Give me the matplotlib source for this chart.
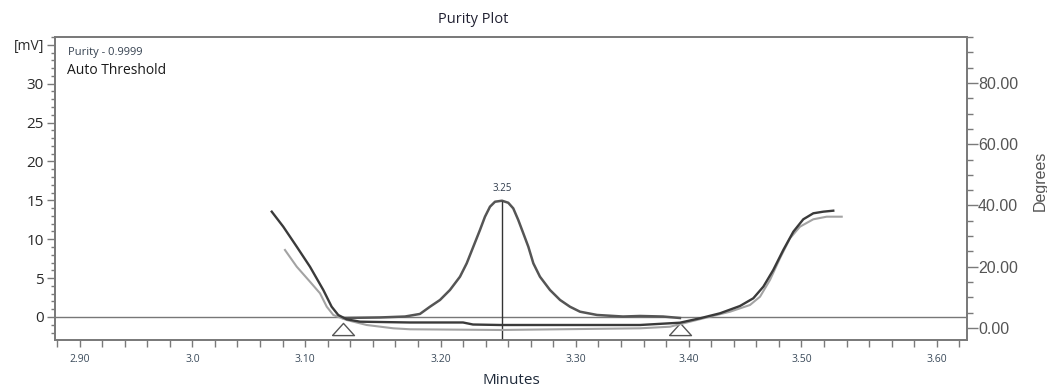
import numpy as np
import matplotlib
matplotlib.use("Agg")
import matplotlib.pyplot as plt
from matplotlib.ticker import FixedLocator, MultipleLocator

# chromatogram (mV) around the 3.25 min peak
peak_min = [3.1202, 3.1504, 3.1708, 3.1830, 3.1912, 3.1994, 3.2075, 3.2157,
            3.2212, 3.2266, 3.2320, 3.2361, 3.2402, 3.2443, 3.2500, 3.2551,
            3.2592, 3.2633, 3.2674, 3.2715, 3.2756, 3.2810, 3.2892, 3.2974,
            3.3055, 3.3137, 3.3276, 3.3488, 3.3627, 3.3815, 3.3953]
peak_mv = [-0.13, -0.06, 0.06, 0.39, 1.32, 2.19, 3.47, 5.18,
           6.90, 9.04, 11.18, 12.89, 14.18, 14.82, 14.95, 14.69,
           13.97, 12.47, 10.76, 9.04, 6.90, 5.18, 3.47, 2.19,
           1.32, 0.68, 0.26, 0.06, 0.13, 0.06, -0.13]

# purity angle (degrees)
angle_min = [3.0620, 3.0714, 3.0824, 3.0932, 3.1041, 3.1109, 3.1163, 3.1232,
             3.1341, 3.1749, 3.2182, 3.2263, 3.2484, 3.3627, 3.3953, 3.4117,
             3.4280, 3.4443, 3.4552, 3.4634, 3.4715, 3.4797, 3.4879, 3.4960,
             3.5042, 3.5124, 3.5205]
angle_deg = [37.98, 33.08, 26.55, 20.02, 12.41, 6.96, 4.24, 2.84,
             2.06, 1.80, 1.80, 1.14, 0.98, 0.98, 1.73, 3.17,
             4.80, 7.18, 9.70, 13.49, 18.94, 25.47, 31.44, 35.49,
             37.45, 37.98, 38.30]

# purity threshold (degrees)
thresh_min = [3.0728, 3.0824, 3.0932, 3.1014, 3.1069, 3.1123, 3.1232, 3.1395,
              3.1613, 3.1749, 3.2484, 3.3627, 3.3872, 3.4035, 3.4198, 3.4362,
              3.4525, 3.4607, 3.4688, 3.4770, 3.4852, 3.4933, 3.5042, 3.5151,
              3.5274]
thresh_deg = [25.47, 20.02, 15.12, 11.33, 6.96, 4.24, 2.61, 0.98,
              -0.10, -0.42, -0.65, -0.10, 0.42, 2.06, 3.69, 5.32,
              7.51, 10.22, 15.67, 22.76, 29.29, 33.08, 35.49, 36.34,
              36.34]

apex_time = 3.25
apex_mv = 14.95
apex_label = "3.25"
baseline_marks = [3.1202, 3.3953]

x_labels = ["2.90", "3.0", "3.10", "3.20", "3.30", "3.40", "3.50", "3.60"]
y_left = [0, 5, 10, 15, 20, 25, 30]
y_right = [0, 20, 40, 60, 80]

fig = plt.figure(figsize=(10.47, 3.88), dpi=100)
ax = fig.add_axes([0.0525, 0.1237, 0.8711, 0.7809])
ax2 = ax.twinx()

ui_font = "Open Sans"
spine_c = "#7a7a7a"

ax.set_xlim(2.885, 3.6297)
ax.set_ylim(-2.96, 36.0)
ax2.set_ylim(-3.92, 95.0)

# baseline at 0 mV
ax.axhline(0, color="#777777", lw=1.0, zorder=1)
ax.plot(peak_min, peak_mv, color="#555555", lw=1.8, zorder=3)
ax.vlines(apex_time, -2.96, apex_mv, color="#333333", lw=1.0, zorder=3)
ax.text(apex_time, apex_mv + 0.9, apex_label, ha="center", va="bottom",
        fontsize=7, color="#2f3b4c", family=ui_font)
tri = [(-1.8, -1), (0, 1), (1.8, -1), (-1.8, -1)]
ax.plot(baseline_marks, [-1.52] * len(baseline_marks), linestyle="none",
        marker=tri, markersize=15.8, markerfacecolor="white",
        markeredgecolor="#555555", markeredgewidth=1.0, zorder=4)

ax2.plot(thresh_min, thresh_deg, color="#a3a3a3", lw=1.5, zorder=2)
ax2.plot(angle_min, angle_deg, color="#3a3a3a", lw=1.7, zorder=3)

# x ticks: evenly spaced minor grid, labels on some of its steps
step = 0.7 / 38
grid = 2.88665 + step * np.arange(41)
ax.xaxis.set_minor_locator(FixedLocator(grid))
ax.xaxis.set_major_locator(FixedLocator(grid[[1, 6, 11, 17, 23, 28, 33, 39]]))
ax.set_xticklabels(x_labels)
ax.tick_params(axis="x", which="both", direction="out", length=5, width=1,
               color=spine_c, labelsize=7.5, labelcolor="#3a4a5a", pad=5)
for lab in ax.get_xticklabels():
    lab.set_family(ui_font)

# left axis (mV)
ax.set_yticks(y_left + [35])
ax.set_yticklabels([str(v) for v in y_left] + ["[mV]"])
ax.yaxis.set_minor_locator(MultipleLocator(1))
ax.tick_params(axis="y", which="major", direction="out", length=6, width=1,
               color=spine_c, labelsize=11, labelcolor="#2a2a2a", pad=2)
ax.tick_params(axis="y", which="minor", direction="out", length=3, width=1,
               color=spine_c)
for lab in ax.get_yticklabels():
    lab.set_family(ui_font)
ax.get_yticklabels()[-1].set_fontsize(10)

# right axis (degrees)
ax2.set_yticks(y_right)
ax2.set_yticklabels(["%.2f" % v for v in y_right])
ax2.yaxis.set_minor_locator(MultipleLocator(5))
ax2.tick_params(axis="y", which="major", direction="out", length=8, width=1,
                color=spine_c, labelsize=11.5, labelcolor="#555555", pad=0)
ax2.tick_params(axis="y", which="minor", direction="out", length=4, width=1,
                color=spine_c)
for lab in ax2.get_yticklabels():
    lab.set_family("Liberation Sans")
ax2.set_ylabel("Degrees", fontsize=11.5, color="#555555", family="Liberation Sans")
ax2.yaxis.set_label_coords(1.072, 0.525)

for a in (ax, ax2):
    for s in a.spines.values():
        s.set_color(spine_c)
        s.set_linewidth(1.3)

ax.set_xlabel("Minutes", fontsize=11, color="#1f2a3a", family=ui_font, labelpad=6)
fig.text(0.452, 0.951, "Purity Plot", ha="center", va="center", fontsize=10.5,
         color="#222233", family=ui_font)
ax.text(0.014, 0.95, "Purity - 0.9999", transform=ax.transAxes, fontsize=8,
        color="#34404f", family=ui_font, va="center")
ax.text(0.013, 0.888, "Auto Threshold", transform=ax.transAxes, fontsize=10,
        color="#1a1a1a", family=ui_font, va="center")

fig.savefig("out.png", dpi=100)
